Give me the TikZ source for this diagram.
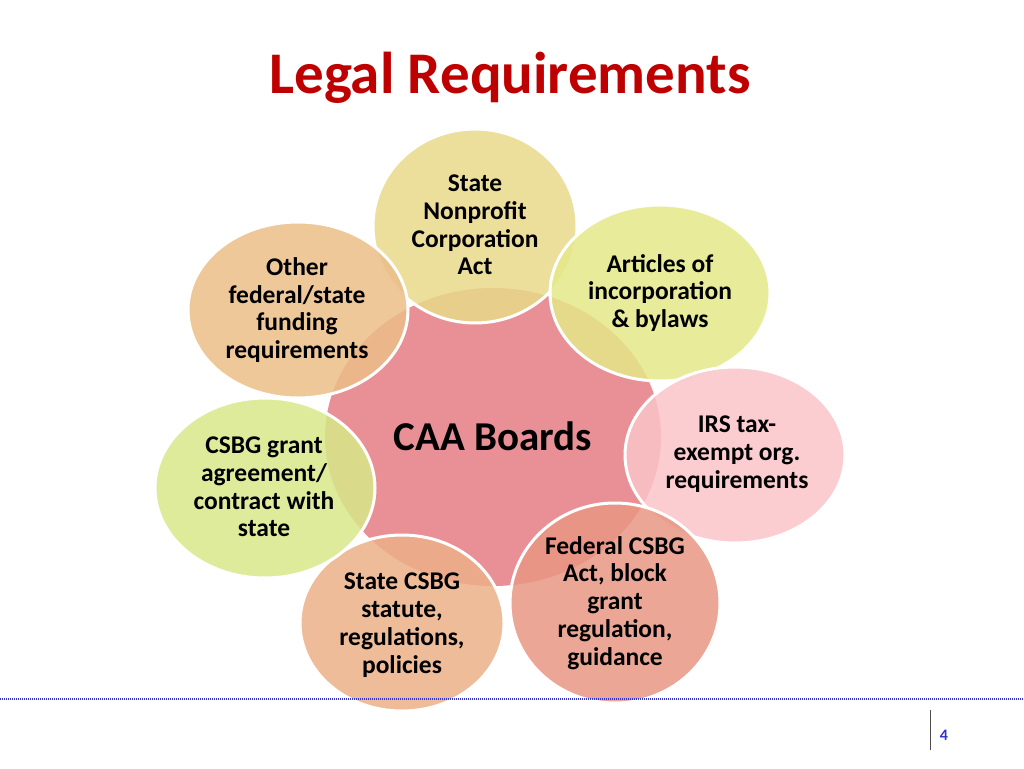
\documentclass[tikz,border=0pt]{standalone}
\usepackage{fontspec}
\setmainfont{Carlito}
\begin{document}
\begin{tikzpicture}[x=1pt,y=-1pt,
  petal/.style={font=\bfseries\fontsize{25.5}{27.8}\selectfont,align=center,inner sep=0pt}]
\useasboundingbox (0,0) rectangle (1024,768);
\node[font=\bfseries\fontsize{59}{66}\selectfont,text=red!75!black] (title) at (510,78) {Legal Requirements};
\fill[fill={rgb,255:red,232;green,144;blue,150}] (493,437) ellipse [x radius=168,y radius=149];
\node (center) at (493,436) {};
\foreach \cx/\cy/\rx/\ry/\r/\g/\b in {
 475/226/102/97/233/217/138,
 660/293/110/88/228/232/135,
 735/455/110/88/250/196/200,
 615/603/105/100/232/150/132,
 402/623/102/88/236/176/136,
 265/488/110/90/216/232/138,
 298/310/110/88/236/190/136}{
 \definecolor{pc}{RGB}{\r,\g,\b}
 \filldraw[draw=white,line width=3pt,fill=pc,fill opacity=0.85] (\cx,\cy) ellipse [x radius=\rx,y radius=\ry];
}
\node[font=\bfseries\fontsize{41}{48}\selectfont] (caa) at (493,436) {CAA Boards};
\node[petal] (a) at (475,225) {State\\Nonprofit\\Corporation\\Act};
\node[petal] (b) at (660,293) {Articles of\\incorporation\\\& bylaws};
\node[petal] (c) at (737,454) {IRS tax-\\exempt org.\\requirements};
\node[petal] (d) at (615,603) {Federal CSBG\\Act, block\\grant\\regulation,\\guidance};
\node[petal] (e) at (402,625) {State CSBG\\statute,\\regulations,\\policies};
\node[petal] (f) at (264,487) {CSBG grant\\agreement/\\contract with\\state};
\node[petal] (g) at (297,310) {Other\\federal/state\\funding\\requirements};
\draw[blue!60!gray,line width=2pt,dash pattern=on 1pt off 1pt] (0,699) -- (1024,699);
\draw[black!70,line width=1pt] (930,710) -- (930,750);
\node[text=blue!60!gray,font=\bfseries\fontsize{16}{18}\selectfont] (pg) at (944,735) {4};
\end{tikzpicture}
\end{document}
